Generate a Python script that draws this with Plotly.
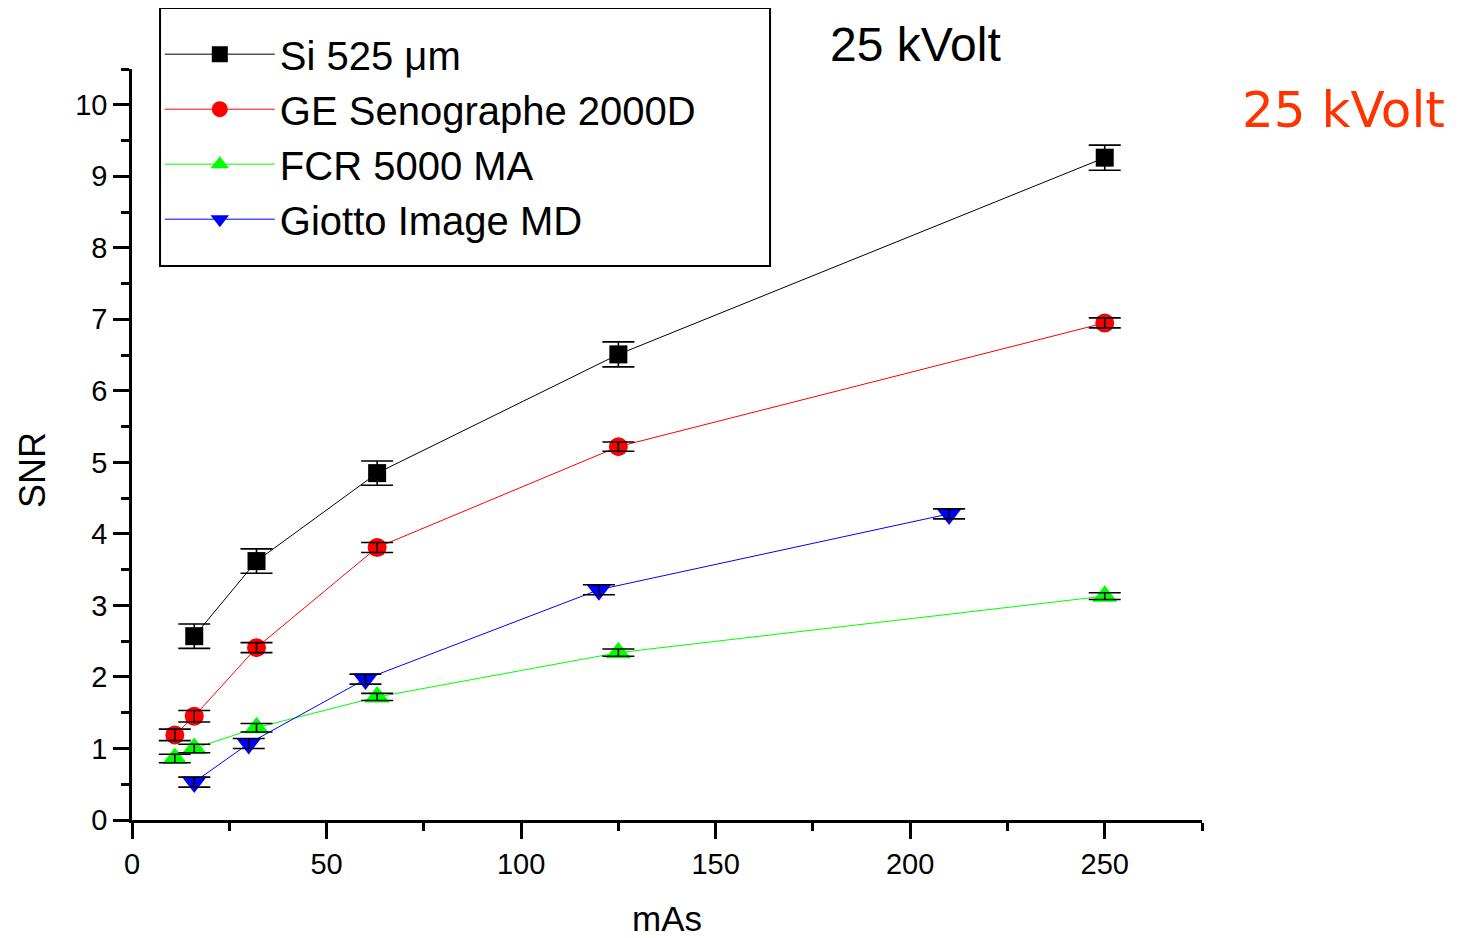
import plotly.graph_objects as go

# ---- data ----
si_x = [16, 32, 63, 125, 250]
si_y = [2.57, 3.62, 4.85, 6.51, 9.26]
si_err = [0.17, 0.17, 0.17, 0.175, 0.175]

ge_x = [11, 16, 32, 63, 125, 250]
ge_y = [1.19, 1.45, 2.41, 3.81, 5.22, 6.95]
ge_err = [0.08, 0.08, 0.07, 0.07, 0.065, 0.07]

fcr_x = [11, 16, 32, 63, 125, 250]
fcr_y = [0.86, 1.0, 1.29, 1.72, 2.34, 3.13]
fcr_err = [0.06, 0.06, 0.06, 0.05, 0.05, 0.047]

gio_x = [16, 30, 60, 120, 210]
gio_y = [0.53, 1.07, 1.97, 3.22, 4.28]
gio_err = [0.07, 0.07, 0.07, 0.07, 0.07]

series = [
    ("Si 525 \u03bcm", si_x, si_y, si_err, "#000000", "square", 18),
    ("GE Senographe 2000D", ge_x, ge_y, ge_err, "#FF0000", "circle", 19),
    ("FCR 5000 MA", fcr_x, fcr_y, fcr_err, "#00FF00", "triangle-up", 22),
    ("Giotto Image MD", gio_x, gio_y, gio_err, "#0000FF", "triangle-down", 22),
]

fig = go.Figure()
for name, x, y, e, col, sym, sz in series:
    fig.add_trace(go.Scatter(
        x=x, y=y, name=name, mode="lines+markers",
        line=dict(color=col, width=1),
        marker=dict(color=col, symbol=sym, size=sz, line=dict(width=0)),
    ))
# error bars drawn on top of markers
for name, x, y, e, col, sym, sz in series:
    fig.add_trace(go.Scatter(
        x=x, y=y, mode="markers", showlegend=False, hoverinfo="skip",
        marker=dict(color="rgba(0,0,0,0)", size=1),
        error_y=dict(type="data", array=e, visible=True, color="#000000",
                     thickness=1.6, width=16),
    ))

fig.update_layout(
    width=1450, height=930,
    paper_bgcolor="white", plot_bgcolor="white",
    margin=dict(l=124, r=256, t=61, b=118),
    font=dict(family="Liberation Sans, Arial, sans-serif", color="black"),
    showlegend=True,
    legend=dict(
        x=0.026, y=1.063, xanchor="left", yanchor="top",
        borderwidth=0, bgcolor="rgba(0,0,0,0)",
        font=dict(size=40, color="black"),
        itemwidth=110, tracegroupgap=0,
    ),
    xaxis=dict(
        range=[0, 275], tickmode="linear", tick0=0, dtick=50,
        ticks="outside", ticklen=16, tickwidth=2.5, tickcolor="black",
        showline=True, linecolor="black", linewidth=2.5,
        showgrid=False, zeroline=False, automargin=False,
        tickfont=dict(size=29),
        minor=dict(dtick=25, ticks="outside", ticklen=8, tickwidth=2.5, tickcolor="black", showgrid=False),
        title=dict(text="mAs", font=dict(size=35), standoff=32),
    ),
    yaxis=dict(
        range=[0, 10.5], tickmode="linear", tick0=0, dtick=1,
        ticks="outside", ticklen=16, tickwidth=2.5, tickcolor="black",
        showline=True, linecolor="black", linewidth=2.5,
        showgrid=False, zeroline=False, automargin=False,
        tickfont=dict(size=29),
        minor=dict(dtick=0.5, ticks="outside", ticklen=8, tickwidth=2.5, tickcolor="black", showgrid=False),
    ),
    shapes=[
        dict(type="rect", xref="paper", yref="paper",
             x0=0.0262, x1=0.5963, y0=0.7377, y1=1.0812,
             line=dict(color="black", width=2), fillcolor="rgba(0,0,0,0)",
             layer="above"),
    ],
    annotations=[
        dict(text="SNR", x=-0.0935, y=0.466, xref="paper", yref="paper",
             xanchor="center", yanchor="middle", textangle=-90,
             showarrow=False, font=dict(size=36, color="black")),
        dict(text="25 kVolt", x=0.7318, y=1.032, xref="paper", yref="paper",
             xanchor="center", yanchor="middle",
             showarrow=False, font=dict(size=48, color="black")),
        dict(text="25 kVolt", x=1.1327, y=0.9454, xref="paper", yref="paper",
             xanchor="center", yanchor="middle",
             showarrow=False, font=dict(size=50, color="#FF3300",
                                        family="DejaVu Sans")),
    ],
)

fig.write_html("out.html")
